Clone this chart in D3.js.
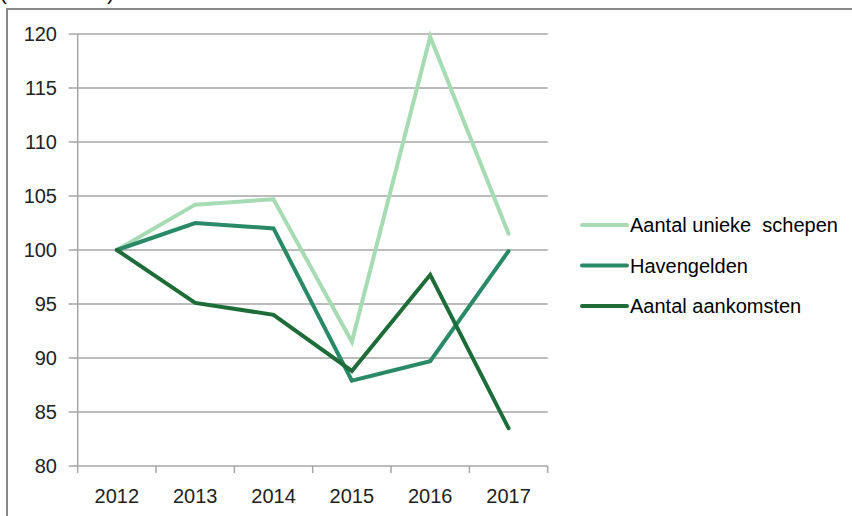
<!DOCTYPE html>
<html><head><meta charset="utf-8">
<script src="https://cdn.jsdelivr.net/npm/d3@7"></script>
<style>html,body{margin:0;padding:0;background:#fff;}svg{display:block;}</style>
</head><body>
<svg id="c" width="852" height="516"></svg>
<script>
const years = ["2012","2013","2014","2015","2016","2017"];
const uniekeSchepen = [100, 104.2, 104.7, 91.5, 119.75, 101.5];
const havengelden = [100, 102.5, 102.0, 87.9, 89.7, 99.9];
const aankomsten = [100, 95.1, 94.0, 88.8, 97.7, 83.5];
const yTicks = [80, 85, 90, 95, 100, 105, 110, 115, 120];
const seriesNames = ["Aantal unieke  schepen", "Havengelden", "Aantal aankomsten"];
const seriesColors = ["#a6dbb3", "#2a8a68", "#1e6c38"];
const seriesData = [uniekeSchepen, havengelden, aankomsten];

const svg = d3.select("#c");
const font = "'Liberation Sans', Arial, sans-serif";
const L = 77.7, R = 547.7, T = 34, B = 466;

// outer frame (partially visible)
svg.append("path").attr("d", `M7,516 V9 H852`).attr("fill","none")
  .attr("stroke","#8a8a8a").attr("stroke-width",2);
svg.append("text").attr("x",0).attr("y",-0.5).attr("font-family",font)
  .attr("font-size",20).attr("fill","#000").text("(2012 = 100)");

const x = d3.scaleBand().domain(years).range([L, R]);
const y = d3.scaleLinear().domain([80, 120]).range([B, T]);

// gridlines
svg.append("g").selectAll("line").data(yTicks).join("line")
  .attr("x1", L - 9).attr("x2", R).attr("y1", d => y(d)).attr("y2", d => y(d))
  .attr("stroke", "#a6a6a6").attr("stroke-width", 1.5);

// y axis line
svg.append("line").attr("x1",L).attr("x2",L).attr("y1",T).attr("y2",B)
  .attr("stroke","#a6a6a6").attr("stroke-width",1.5);

// y labels
svg.append("g").selectAll("text").data(yTicks).join("text")
  .attr("x", 57).attr("y", d => y(d)).attr("dy","0.35em")
  .attr("text-anchor","end").attr("font-family",font).attr("font-size",20)
  .attr("fill","#222").text(d => d);

// x axis with ticks at band boundaries
const bounds = years.map(d => x(d)).concat([R]);
svg.append("g").selectAll("line").data(bounds).join("line")
  .attr("x1", d => d).attr("x2", d => d).attr("y1", B).attr("y2", B + 7)
  .attr("stroke","#a6a6a6").attr("stroke-width",1.5);
svg.append("g").selectAll("text").data(years).join("text")
  .attr("x", d => x(d) + x.bandwidth()/2).attr("y", 503)
  .attr("text-anchor","middle").attr("font-family",font).attr("font-size",20)
  .attr("fill","#222").text(d => d);

// lines
const line = d3.line().x((d,i) => x(years[i]) + x.bandwidth()/2).y(d => y(d));
seriesData.forEach((s, k) => {
  svg.append("path").datum(s).attr("d", line).attr("fill","none")
    .attr("stroke", seriesColors[k]).attr("stroke-width", 4)
    .attr("stroke-linejoin","miter").attr("stroke-linecap","round");
});

// legend
const lg = svg.append("g");
seriesNames.forEach((n, k) => {
  const yy = 225 + k * 40.5;
  lg.append("line").attr("x1", 582).attr("x2", 627).attr("y1", yy).attr("y2", yy)
    .attr("stroke", seriesColors[k]).attr("stroke-width", 4).attr("stroke-linecap","round");
  lg.append("text").attr("x", 630).attr("y", yy).attr("dy","0.35em")
    .attr("font-family", font).attr("font-size", 20).attr("fill","#000")
    .attr("xml:space","preserve").style("white-space","pre").text(n);
});
</script>
</body></html>
